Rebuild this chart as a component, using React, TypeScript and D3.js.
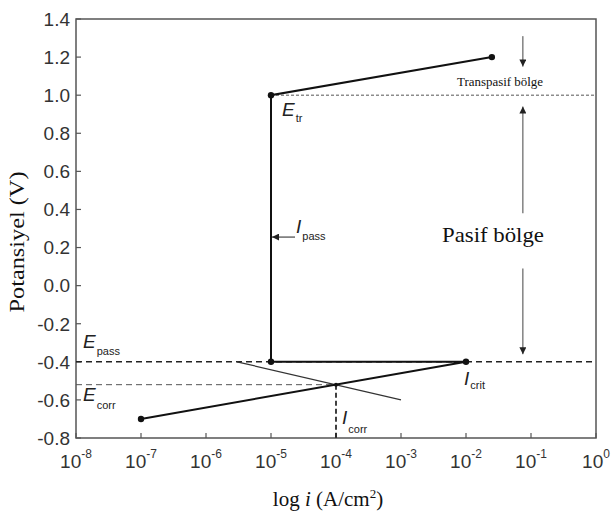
import React, { useEffect, useRef } from "react";
import * as d3 from "d3";

// polarization curve (current density A/cm2, potential V)
const curveI = [1e-7, 1e-2, 1e-5, 1e-5, 0.025];
const curveE = [-0.7, -0.4, -0.4, 1.0, 1.2];
// cathodic branch
const cathI = [3.0e-6, 1e-3];
const cathE = [-0.4, -0.6];
const ePass = -0.4;
const eCorr = -0.52;
const eTr = 1.0;
const iCorr = 1e-4;
const iCrit = 1e-2;
const iPassE = 0.255;
// region arrows on the right
const arrowI = 0.075;
const arrows = [
  { from: 1.31, to: 1.15 },
  { from: 0.38, to: 0.94 },
  { from: 0.09, to: -0.36 },
];
const yTicks = [-0.8, -0.6, -0.4, -0.2, 0.0, 0.2, 0.4, 0.6, 0.8, 1.0, 1.2, 1.4];
const xExps = [-8, -7, -6, -5, -4, -3, -2, -1, 0];

const SANS = "'Liberation Sans', Arial, sans-serif";
const SERIF = "'Liberation Serif', 'Times New Roman', serif";

export default function App() {
  const ref = useRef<SVGSVGElement>(null);

  useEffect(() => {
    const svg = d3.select(ref.current);
    svg.selectAll("*").remove();

    const left = 76, right = 596, top = 19, bottom = 438;
    const x = d3.scaleLog().domain([1e-8, 1]).range([left, right]);
    const y = d3.scaleLinear().domain([-0.8, 1.4]).range([bottom, top]);

    const defs = svg.append("defs");
    defs
      .append("marker")
      .attr("id", "head")
      .attr("viewBox", "0 0 10 10")
      .attr("refX", 10)
      .attr("refY", 5)
      .attr("markerWidth", 8)
      .attr("markerHeight", 7)
      .attr("markerUnits", "userSpaceOnUse")
      .attr("orient", "auto")
      .append("path")
      .attr("d", "M0,0 L10,5 L0,10 Z")
      .attr("fill", "#222");

    // frame
    svg
      .append("rect")
      .attr("x", left)
      .attr("y", top)
      .attr("width", right - left)
      .attr("height", bottom - top)
      .attr("fill", "none")
      .attr("stroke", "#555")
      .attr("stroke-width", 1.5);

    // y ticks
    yTicks.forEach((t) => {
      svg
        .append("line")
        .attr("x1", left)
        .attr("x2", left + 5)
        .attr("y1", y(t))
        .attr("y2", y(t))
        .attr("stroke", "#555")
        .attr("stroke-width", 1.2);
      svg
        .append("text")
        .attr("x", left - 6)
        .attr("y", y(t))
        .attr("dy", "0.36em")
        .attr("text-anchor", "end")
        .attr("font-family", SANS)
        .attr("font-size", 19)
        .attr("fill", "#333")
        .text(t.toFixed(1));
    });

    // x ticks
    xExps.forEach((e) => {
      const px = x(Math.pow(10, e));
      svg
        .append("line")
        .attr("x1", px)
        .attr("x2", px)
        .attr("y1", bottom)
        .attr("y2", bottom - 5)
        .attr("stroke", "#555")
        .attr("stroke-width", 1.2);
      const txt = svg
        .append("text")
        .attr("x", px)
        .attr("y", bottom + 30)
        .attr("text-anchor", "middle")
        .attr("font-family", SANS)
        .attr("fill", "#333");
      txt.append("tspan").attr("font-size", 19).text("10");
      txt.append("tspan").attr("font-size", 12).attr("dy", -10).text(String(e));
    });

    // axis titles
    const xt = svg
      .append("text")
      .attr("x", 328)
      .attr("y", 506)
      .attr("text-anchor", "middle")
      .attr("font-family", SERIF)
      .attr("font-size", 21)
      .attr("fill", "#111");
    xt.append("tspan").text("log ");
    xt.append("tspan").attr("font-style", "italic").text("i");
    xt.append("tspan").text(" (A/cm");
    xt.append("tspan").attr("font-size", 13).attr("dy", -8).text("2");
    xt.append("tspan").attr("dy", 8).text(")");

    svg
      .append("text")
      .attr("transform", "translate(24,242) rotate(-90)")
      .attr("text-anchor", "middle")
      .attr("font-family", SERIF)
      .attr("font-size", 21)
      .attr("textLength", 141)
      .attr("lengthAdjust", "spacingAndGlyphs")
      .attr("fill", "#111")
      .text("Potansiyel (V)");

    // dashed reference lines
    svg
      .append("line")
      .attr("x1", left)
      .attr("x2", right)
      .attr("y1", y(ePass))
      .attr("y2", y(ePass))
      .attr("stroke", "#222")
      .attr("stroke-width", 1.5)
      .attr("stroke-dasharray", "6,4");
    svg
      .append("line")
      .attr("x1", left)
      .attr("x2", x(iCorr))
      .attr("y1", y(eCorr))
      .attr("y2", y(eCorr))
      .attr("stroke", "#555")
      .attr("stroke-width", 1)
      .attr("stroke-dasharray", "6,4");
    svg
      .append("line")
      .attr("x1", x(iCorr))
      .attr("x2", x(iCorr))
      .attr("y1", y(eCorr))
      .attr("y2", bottom)
      .attr("stroke", "#111")
      .attr("stroke-width", 1.6)
      .attr("stroke-dasharray", "5,3");
    svg
      .append("line")
      .attr("x1", x(1e-5))
      .attr("x2", right)
      .attr("y1", y(eTr))
      .attr("y2", y(eTr))
      .attr("stroke", "#555")
      .attr("stroke-width", 1)
      .attr("stroke-dasharray", "3,2");

    // cathodic branch
    const line = d3
      .line<number>()
      .x((d, i) => x(d))
      .y((d, i) => 0);
    const cath = cathI.map((v, i) => [x(v), y(cathE[i])] as [number, number]);
    svg
      .append("path")
      .attr("d", d3.line()(cath))
      .attr("fill", "none")
      .attr("stroke", "#333")
      .attr("stroke-width", 1.2);

    // main curve
    const pts = curveI.map((v, i) => [x(v), y(curveE[i])] as [number, number]);
    svg
      .append("path")
      .attr("d", d3.line()(pts))
      .attr("fill", "none")
      .attr("stroke", "#111")
      .attr("stroke-width", 2)
      .attr("stroke-linejoin", "miter");
    svg
      .selectAll(".dot")
      .data(pts)
      .join("circle")
      .attr("class", "dot")
      .attr("cx", (d) => d[0])
      .attr("cy", (d) => d[1])
      .attr("r", 3.2)
      .attr("fill", "#111");
    svg
      .append("circle")
      .attr("cx", x(iCorr))
      .attr("cy", y(eCorr))
      .attr("r", 2)
      .attr("fill", "#111");

    // I_pass arrow
    svg
      .append("line")
      .attr("x1", x(1e-5) + 24)
      .attr("x2", x(1e-5) + 1)
      .attr("y1", y(iPassE))
      .attr("y2", y(iPassE))
      .attr("stroke", "#222")
      .attr("stroke-width", 1)
      .attr("marker-end", "url(#head)");

    // region arrows
    arrows.forEach((a) => {
      svg
        .append("line")
        .attr("x1", x(arrowI))
        .attr("x2", x(arrowI))
        .attr("y1", y(a.from))
        .attr("y2", y(a.to))
        .attr("stroke", "#444")
        .attr("stroke-width", 1)
        .attr("marker-end", "url(#head)");
    });

    svg
      .append("text")
      .attr("x", 500)
      .attr("y", 86)
      .attr("text-anchor", "middle")
      .attr("font-family", SERIF)
      .attr("font-size", 12)
      .attr("textLength", 86)
      .attr("lengthAdjust", "spacingAndGlyphs")
      .attr("fill", "#111")
      .text("Transpasif bölge");
    svg
      .append("text")
      .attr("x", 493)
      .attr("y", 242)
      .attr("text-anchor", "middle")
      .attr("font-family", SERIF)
      .attr("font-size", 22)
      .attr("textLength", 102)
      .attr("lengthAdjust", "spacingAndGlyphs")
      .attr("fill", "#111")
      .text("Pasif bölge");

    // symbol labels
    const sym = (px: number, py: number, main: string, sub: string, dsub: number) => {
      const t = svg
        .append("text")
        .attr("x", px)
        .attr("y", py)
        .attr("font-family", SANS)
        .attr("fill", "#222");
      t.append("tspan").attr("font-style", "italic").attr("font-size", 19).text(main);
      t.append("tspan").attr("font-size", 11).attr("dx", 1).attr("dy", dsub).text(sub);
    };
    sym(x(1e-5) + 11, y(eTr) + 21, "E", "tr", 6);
    sym(x(1e-5) + 25, y(iPassE) - 4, "I", "pass", 7);
    sym(left + 7, y(ePass) - 14, "E", "pass", 7);
    sym(left + 7, y(eCorr) + 16, "E", "corr", 8);
    sym(x(iCrit) - 2, y(ePass) + 23, "I", "crit", 4);
    sym(x(iCorr) + 6, y(eCorr) + 39, "I", "corr", 9);
  }, []);

  return (
    <div style={{ position: "absolute", left: 0, top: 0 }}>
      <svg ref={ref} width={612} height={516} style={{ display: "block", background: "#fff" }} />
    </div>
  );
}
